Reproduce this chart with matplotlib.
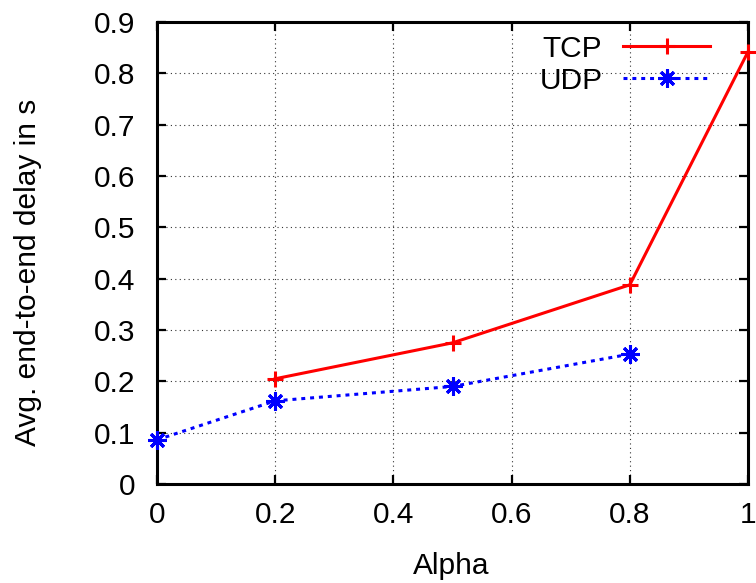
import matplotlib.pyplot as plt

plt.rcParams['font.family'] = ['Liberation Sans', 'DejaVu Sans']

# values
alpha_tcp = [0.2, 0.5, 0.8, 1.0]
delay_tcp = [0.205, 0.275, 0.388, 0.842]

alpha_udp = [0.0, 0.2, 0.5, 0.8]
delay_udp = [0.086, 0.162, 0.190, 0.253]

xticks = [0, 0.2, 0.4, 0.6, 0.8, 1]
xticklabels = ['0', '0.2', '0.4', '0.6', '0.8', '1']
yticks = [0, 0.1, 0.2, 0.3, 0.4, 0.5, 0.6, 0.7, 0.8, 0.9]
yticklabels = ['0', '0.1', '0.2', '0.3', '0.4', '0.5', '0.6', '0.7', '0.8', '0.9']

fs = 21.5

fig = plt.figure(figsize=(7.56, 5.83), dpi=100)
ax = fig.add_axes([157 / 756, 99 / 583, 591 / 756, 462 / 583])

ax.plot(alpha_tcp, delay_tcp, color='#ff0000', lw=2.2, marker='+', ms=12, mew=2.2,
        label='TCP', clip_on=False, zorder=3)
ax.plot(alpha_udp, delay_udp, color='#0000ff', lw=2.2, ls=(0, (1.3, 1.6)),
        marker=(8, 2, 0), ms=13, mew=2.2, label='UDP', clip_on=False, zorder=3)

ax.set_xlim(0, 1)
ax.set_ylim(0, 0.9)
ax.set_xticks(xticks)
ax.set_xticklabels(xticklabels)
ax.set_yticks(yticks)
ax.set_yticklabels(yticklabels)

ax.grid(True, color='black', lw=0.8, ls=(0, (1, 3)), alpha=0.8)
ax.tick_params(direction='in', length=6.5, width=1.6, labelsize=fs, top=True, right=True)
ax.tick_params(axis='x', pad=12)
ax.tick_params(axis='y', pad=15.5)
for s in ax.spines.values():
    s.set_linewidth(2.2)

fig.text(451.5 / 756, 9 / 583, 'Alpha', fontsize=fs, ha='center', va='baseline')
fig.text(28 / 756, 1 - 272 / 583, 'Avg. end-to-end delay in s', fontsize=fs,
         rotation=90, ha='center', va='center')

ax.legend(loc='upper right', bbox_to_anchor=(0.9357, 0.972), frameon=False, fontsize=fs,
          markerfirst=False, handlelength=2.9, handletextpad=0.7, labelspacing=0.12,
          borderpad=0, borderaxespad=0)

fig.savefig('out.png', dpi=100)
